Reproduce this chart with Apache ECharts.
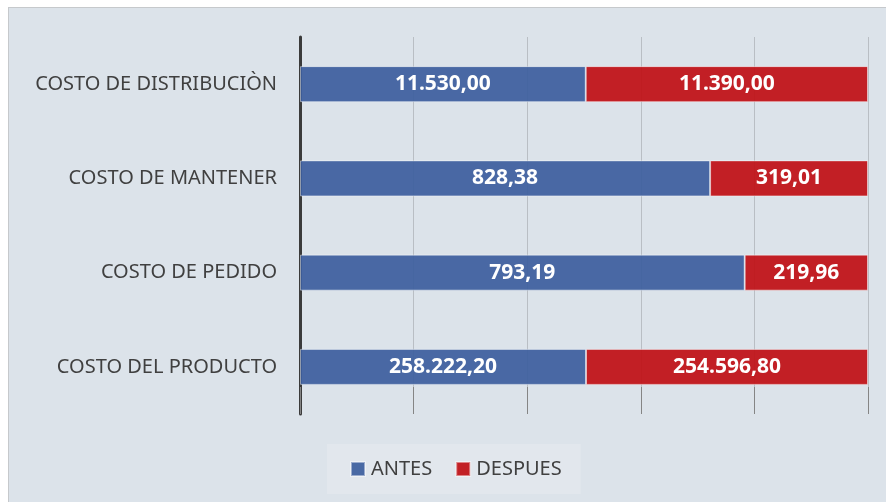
<!DOCTYPE html>
<html>
<head>
<meta charset="utf-8">
<script src="https://cdn.jsdelivr.net/npm/echarts@6/dist/echarts.min.js"></script>
<style>
  html, body { margin: 0; padding: 0; background: #ffffff; }
  .frame {
    position: absolute; left: 8px; top: 7px; width: 878px; height: 495px;
    background: #dce3ea; border-left: 1px solid #c6c9cc; border-top: 1px solid #c6c9cc;
  }
  #chart { position: absolute; left: 0; top: 0; width: 886px; height: 502px; }
</style>
</head>
<body>
<div class="frame"></div>
<div id="chart"></div>
<script>
// categorias y valores (antes / despues)
const categories = ['COSTO DE DISTRIBUCIÒN', 'COSTO DE MANTENER', 'COSTO DE PEDIDO', 'COSTO DEL PRODUCTO'];
const antes = [11530.00, 828.38, 793.19, 258222.20];
const despues = [11390.00, 319.01, 219.96, 254596.80];
const seriesNames = ['ANTES', 'DESPUES'];

// apilado al 100%
const totals = antes.map((v, i) => v + despues[i]);
const antesPct = antes.map((v, i) => v / totals[i] * 100);
const despuesPct = despues.map((v, i) => v / totals[i] * 100);

// formato 258.222,20
function fmt(v) {
  let parts = v.toFixed(2).split('.');
  parts[0] = parts[0].replace(/\B(?=(\d{3})+(?!\d))/g, '.');
  return parts[0] + ',' + parts[1];
}

const chart = echarts.init(document.getElementById('chart'));

const labelStyle = {
  show: true,
  position: 'inside',
  color: '#ffffff',
  fontFamily: 'Noto Sans',
  fontWeight: 'bold',
  fontSize: 21
};

chart.setOption({
  backgroundColor: 'transparent',
  animation: false,
  grid: { left: 300, right: 18, top: 37, bottom: 88, containLabel: false },
  legend: {
    data: seriesNames,
    left: 327,
    top: 444,
    padding: [15, 19, 15, 23],
    backgroundColor: '#e2e7ed',
    itemGap: 23,
    itemWidth: 14,
    itemHeight: 14,
    icon: 'rect',
    textStyle: { color: '#404040', fontFamily: 'Noto Sans', fontSize: 20, padding: [0, 0, 0, 1] }
  },
  xAxis: {
    type: 'value',
    min: 0,
    max: 100,
    interval: 20,
    axisLabel: { show: false },
    axisLine: { show: false },
    axisTick: { show: true, inside: true, length: 27, lineStyle: { color: '#858585', width: 1 } },
    splitLine: { show: true, lineStyle: { color: '#b9bec4', width: 1 } }
  },
  yAxis: {
    type: 'category',
    data: categories,
    inverse: true,
    axisLine: { show: true, lineStyle: { color: '#3b3b3b', width: 3 } },
    axisTick: { show: false },
    axisLabel: { color: '#404040', fontFamily: 'Noto Sans', fontSize: 20, margin: 23 }
  },
  series: [
    {
      name: seriesNames[0],
      type: 'bar',
      stack: 'total',
      barWidth: 36,
      data: antesPct,
      itemStyle: { color: 'rgba(61,95,158,0.93)', borderColor: 'rgba(255,255,255,0.45)', borderWidth: 1 },
      label: Object.assign({}, labelStyle, { formatter: p => fmt(antes[p.dataIndex]) })
    },
    {
      name: seriesNames[1],
      type: 'bar',
      stack: 'total',
      barWidth: 36,
      data: despuesPct,
      itemStyle: { color: 'rgba(192,16,21,0.93)', borderColor: 'rgba(255,255,255,0.45)', borderWidth: 1 },
      label: Object.assign({}, labelStyle, { formatter: p => fmt(despues[p.dataIndex]) })
    }
  ]
});
</script>
</body>
</html>
